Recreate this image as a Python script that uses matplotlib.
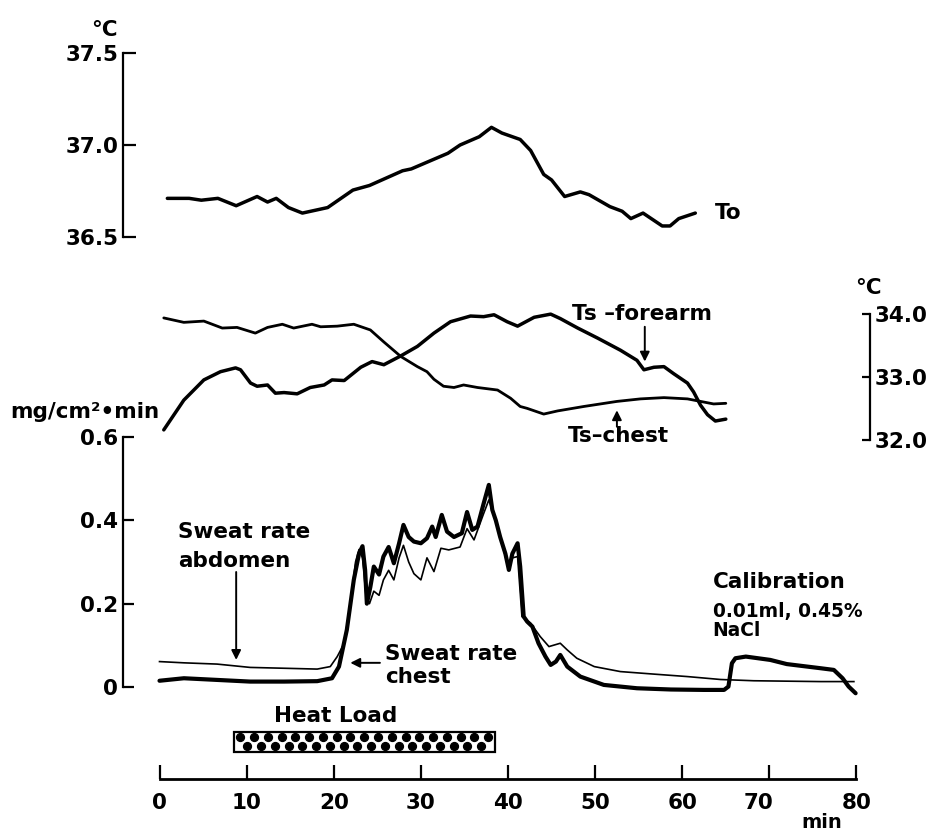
import numpy as np
import matplotlib
matplotlib.use("Agg")
import matplotlib.pyplot as plt
from matplotlib.patches import Rectangle
from matplotlib.transforms import ScaledTranslation

# ---------------- data ----------------
# Oesophageal / core temperature (To), deg C
t_to = [0.9, 3.4, 4.8, 6.7, 8.8, 11.2, 12.4, 13.4, 14.8, 16.4, 19.3, 22.2, 24.1,
        27.9, 28.9, 33.1, 34.5, 36.7, 38.1, 39.3, 41.4, 42.6, 44.1, 45.0, 46.5,
        48.3, 49.3, 51.7, 53.1, 54.1, 55.5, 57.7, 58.6, 59.6, 61.5]
v_to = [36.71, 36.71, 36.70, 36.71, 36.67, 36.72, 36.69, 36.71, 36.66, 36.63,
        36.66, 36.755, 36.78, 36.86, 36.87, 36.955, 37.0, 37.045, 37.096, 37.065,
        37.03, 36.97, 36.84, 36.81, 36.72, 36.745, 36.73, 36.665, 36.64, 36.60,
        36.63, 36.56, 36.56, 36.60, 36.63]

# Skin temperature forearm, deg C
t_fa = [0.49, 2.79, 5.09, 7.0, 8.73, 9.3, 10.45, 11.2, 12.4, 13.3, 14.3, 15.8,
        17.3, 18.9, 19.8, 21.2, 23.1, 24.4, 25.75, 27.7, 29.6, 31.5, 33.4, 35.7,
        37.2, 38.4, 39.9, 41.1, 43.0, 44.9, 46.0, 48.0, 50.3, 52.9, 54.8, 55.6,
        56.75, 57.9, 59.0, 60.6, 61.3, 62.1, 62.9, 63.8, 65.0]
v_fa = [32.16, 32.63, 32.95, 33.08, 33.14, 33.11, 32.90, 32.85, 32.87, 32.74,
        32.75, 32.73, 32.83, 32.87, 32.95, 32.94, 33.15, 33.24, 33.19, 33.33,
        33.48, 33.69, 33.87, 33.96, 33.95, 33.98, 33.87, 33.80, 33.94, 33.99,
        33.92, 33.77, 33.61, 33.42, 33.26, 33.11, 33.15, 33.16, 33.05, 32.90,
        32.76, 32.55, 32.40, 32.30, 32.33]

# Skin temperature chest, deg C
t_ch = [0.49, 2.79, 5.09, 7.2, 8.9, 11.0, 12.4, 14.1, 15.4, 17.5, 18.5, 20.4,
        22.3, 24.2, 25.75, 27.7, 29.6, 30.7, 31.5, 32.6, 33.8, 34.9, 36.5, 38.8,
        40.3, 41.4, 42.2, 44.1, 45.7, 48.7, 52.5, 55.2, 57.9, 60.6, 62.1, 63.6, 65.0]
v_ch = [33.93, 33.86, 33.88, 33.77, 33.78, 33.69, 33.78, 33.83, 33.77, 33.83,
        33.79, 33.80, 33.83, 33.74, 33.55, 33.32, 33.16, 33.08, 32.96, 32.85,
        32.83, 32.87, 32.83, 32.79, 32.66, 32.53, 32.50, 32.41, 32.46, 32.53,
        32.61, 32.65, 32.67, 32.65, 32.61, 32.57, 32.58]

# Sweat rate abdomen (thin), mg/cm2.min
t_sa = [0.0, 2.8, 6.6, 10.4, 14.3, 18.1, 19.6, 20.4, 21.2, 21.9, 22.5, 22.9, 23.3,
        23.7, 24.1, 24.6, 25.2, 25.7, 26.3, 26.9, 27.5, 28.0, 28.6, 29.2, 30.0,
        30.7, 31.5, 32.3, 33.2, 34.5, 35.3, 36.1, 37.2, 37.8, 38.8, 39.9, 40.5,
        41.1, 41.6, 42.6, 43.7, 44.7, 46.0, 46.8, 47.9, 49.9, 52.9, 56.7, 60.6,
        64.4, 68.2, 72.0, 75.9, 79.7]
v_sa = [0.061, 0.058, 0.055, 0.047, 0.045, 0.043, 0.049, 0.073, 0.105, 0.20,
        0.30, 0.33, 0.31, 0.22, 0.20, 0.23, 0.22, 0.257, 0.28, 0.257, 0.31,
        0.34, 0.30, 0.272, 0.257, 0.31, 0.277, 0.333, 0.329, 0.336, 0.38, 0.353,
        0.416, 0.449, 0.385, 0.297, 0.31, 0.313, 0.169, 0.153, 0.121, 0.097,
        0.105, 0.089, 0.069, 0.049, 0.037, 0.031, 0.025, 0.018, 0.015, 0.014,
        0.013, 0.013]

# Sweat rate chest (thick), mg/cm2.min
t_sc = [0.0, 2.8, 6.6, 10.4, 14.3, 18.1, 19.8, 20.6, 21.5, 22.3, 22.9, 23.3,
        23.6, 23.8, 24.2, 24.6, 25.2, 25.7, 26.3, 26.9, 27.5, 28.0, 28.6, 29.2,
        30.0, 30.7, 31.3, 31.7, 32.4, 33.0, 33.8, 34.7, 35.3, 35.9, 36.5, 37.2,
        37.8, 38.2, 38.6, 39.1, 39.7, 40.1, 40.5, 41.1, 41.4, 41.8, 42.2, 42.8,
        43.5, 44.3, 44.9, 45.5, 46.0, 46.8, 48.3, 51.0, 54.8, 58.7, 62.5, 64.8,
        65.3, 65.7, 66.1, 67.3, 70.1, 72.0, 75.9, 77.4, 78.4, 79.1, 79.9]
v_sc = [0.015, 0.021, 0.017, 0.013, 0.013, 0.014, 0.021, 0.049, 0.137, 0.257,
        0.32, 0.338, 0.281, 0.20, 0.24, 0.289, 0.27, 0.313, 0.336, 0.297, 0.345,
        0.389, 0.36, 0.349, 0.345, 0.357, 0.385, 0.36, 0.413, 0.373, 0.36, 0.369,
        0.42, 0.377, 0.385, 0.44, 0.485, 0.425, 0.40, 0.36, 0.32, 0.281, 0.32,
        0.345, 0.289, 0.169, 0.157, 0.145, 0.105, 0.073, 0.053, 0.061, 0.077,
        0.049, 0.025, 0.005, -0.003, -0.006, -0.007, -0.007, 0.001, 0.057, 0.069,
        0.073, 0.065, 0.055, 0.045, 0.041, 0.021, 0.001, -0.015]

to_ticks = [36.5, 37.0, 37.5]
to_labels = ["36.5", "37.0", "37.5"]
ts_ticks = [32.0, 33.0, 34.0]
ts_labels = ["32.0", "33.0", "34.0"]
sw_ticks = [0.0, 0.2, 0.4, 0.6]
sw_labels = ["0", "0.2", "0.4", "0.6"]
time_ticks = [0, 10, 20, 30, 40, 50, 60, 70, 80]
heat_start, heat_end = 8.5, 38.5

# ---------------- figure ----------------
plt.rcParams['font.family'] = ['DejaVu Sans']
plt.rcParams['font.size'] = 15.5
plt.rcParams['font.weight'] = 'bold'

W, H = 935, 835
fig = plt.figure(figsize=(W / 100, H / 100), dpi=100)
fig.patch.set_facecolor('white')


def fx(px):
    return px / W


def fy(py):
    return 1 - py / H


XMIN, XMAX = -4.19, 81.55
LPX, RPX = 123, 870


def add_ax(ytop, ybot):
    a = fig.add_axes([fx(LPX), fy(ybot), (RPX - LPX) / W, (ybot - ytop) / H])
    a.set_facecolor('none')
    a.set_xlim(XMIN, XMAX)
    for s in a.spines.values():
        s.set_visible(False)
    a.set_xticks([])
    return a


LW_SP = 1.6
# --- top: To ---
ax1 = add_ax(53, 237)
ax1.set_ylim(36.5, 37.5)
ax1.spines['left'].set_visible(True)
ax1.spines['left'].set_linewidth(LW_SP)
ax1.set_yticks(to_ticks, to_labels)
ax1.tick_params(axis='y', direction='in', length=9.5, width=LW_SP, pad=3.5)
ax1.plot(t_to, v_to, color='black', lw=2.5, clip_on=False,
         solid_joinstyle='round', solid_capstyle='round')
ax1.text(63.8, 36.63, "To", ha='left', va='center')
fig.text(fx(118), fy(30), "°C", ha='right', va='center')

# --- middle: skin temperatures ---
ax2 = add_ax(313.5, 440)
ax2.set_ylim(32.0, 34.0)
ax2.spines['right'].set_visible(True)
ax2.spines['right'].set_linewidth(LW_SP)
ax2.yaxis.tick_right()
ax2.set_yticks(ts_ticks, ts_labels)
ax2.tick_params(axis='y', direction='in', length=6, width=LW_SP, pad=3)
ax2.plot(t_ch, v_ch, color='black', lw=2.0, clip_on=False,
         solid_joinstyle='round', solid_capstyle='round')
ax2.plot(t_fa, v_fa, color='black', lw=2.5, clip_on=False,
         solid_joinstyle='round', solid_capstyle='round')
ax2.text(47.35, 34.0, "Ts –forearm", ha='left', va='center')
ax2.text(46.9, 32.06, "Ts–chest", ha='left', va='center')
arrow_kw = dict(arrowstyle='-|>', color='black', lw=1.4, mutation_scale=14,
                shrinkA=0, shrinkB=0)
ax2.annotate('', xy=(55.7, 33.24), xytext=(55.7, 33.79), arrowprops=arrow_kw,
             annotation_clip=False)
ax2.annotate('', xy=(52.5, 32.47), xytext=(52.5, 32.21), arrowprops=arrow_kw,
             annotation_clip=False)
fig.text(fx(868), fy(288), "°C", ha='center', va='center')

# --- bottom: sweat rate ---
ax3 = add_ax(437, 687)
ax3.set_ylim(0.0, 0.6)
ax3.spines['left'].set_visible(True)
ax3.spines['left'].set_linewidth(LW_SP)
ax3.set_yticks(sw_ticks, sw_labels)
ax3.tick_params(axis='y', direction='in', length=8, width=LW_SP, pad=3.5)
ax3.plot(t_sa, v_sa, color='black', lw=1.2, clip_on=False,
         solid_joinstyle='round')
ax3.plot(t_sc, v_sc, color='black', lw=3.0, clip_on=False,
         solid_joinstyle='round', solid_capstyle='round')
ax3.text(2.1, 0.3576, "Sweat rate", ha='left', va='baseline')
ax3.text(2.1, 0.288, "abdomen", ha='left', va='baseline')
ax3.annotate('', xy=(8.8, 0.065), xytext=(8.8, 0.276), arrowprops=arrow_kw,
             annotation_clip=False)
ax3.text(25.9, 0.0648, "Sweat rate", ha='left', va='baseline')
ax3.text(25.9, 0.0096, "chest", ha='left', va='baseline')
ax3.annotate('', xy=(21.9, 0.058), xytext=(25.3, 0.058), arrowprops=arrow_kw,
             annotation_clip=False)
ax3.text(63.5, 0.2376, "Calibration", ha='left', va='baseline')
ax3.text(63.5, 0.1687, "0.01ml, 0.45%", ha='left', va='baseline', fontsize=13.4)
ax3.text(63.5, 0.1224, "NaCl", ha='left', va='baseline', fontsize=13.4)
fig.text(fx(10), fy(418), "mg/cm²•min", ha='left', va='baseline')

# --- time axis with heat load bar ---
ax4 = add_ax(700, 779)
ax4.set_ylim(0, 1)
ax4.spines['bottom'].set_visible(True)
ax4.spines['bottom'].set_linewidth(2.0)
ax4.spines['bottom'].set_bounds(time_ticks[0], time_ticks[-1])
ax4.set_xticks(time_ticks, [str(v) for v in time_ticks])
ax4.tick_params(axis='x', direction='in', length=10, width=LW_SP, pad=10)
ax4.set_yticks([])
lab70 = ax4.get_xticklabels()[7]
lab70.set_transform(lab70.get_transform() +
                    ScaledTranslation(-0.11, 0, fig.dpi_scale_trans))
ax4.add_patch(Rectangle((heat_start, 0.346), heat_end - heat_start, 0.253,
                        facecolor='white', edgecolor='black', lw=1.6,
                        clip_on=False))
n_dots = 19
step = (heat_end - heat_start) / n_dots
top_x = heat_start + step * (np.arange(n_dots) + 0.5)
bot_x = heat_start + step * (np.arange(n_dots - 1) + 1.0)
ax4.scatter(top_x, np.full(n_dots, 0.53), s=32, color='black', clip_on=False)
ax4.scatter(bot_x, np.full(n_dots - 1, 0.42), s=32, color='black', clip_on=False)
ax4.text(13.1, 0.80, "Heat Load", ha='left', va='center')
fig.text(fx(822), fy(823), "min", ha='center', va='center', fontsize=14)

fig.savefig("out.png", dpi=100, facecolor='white')
